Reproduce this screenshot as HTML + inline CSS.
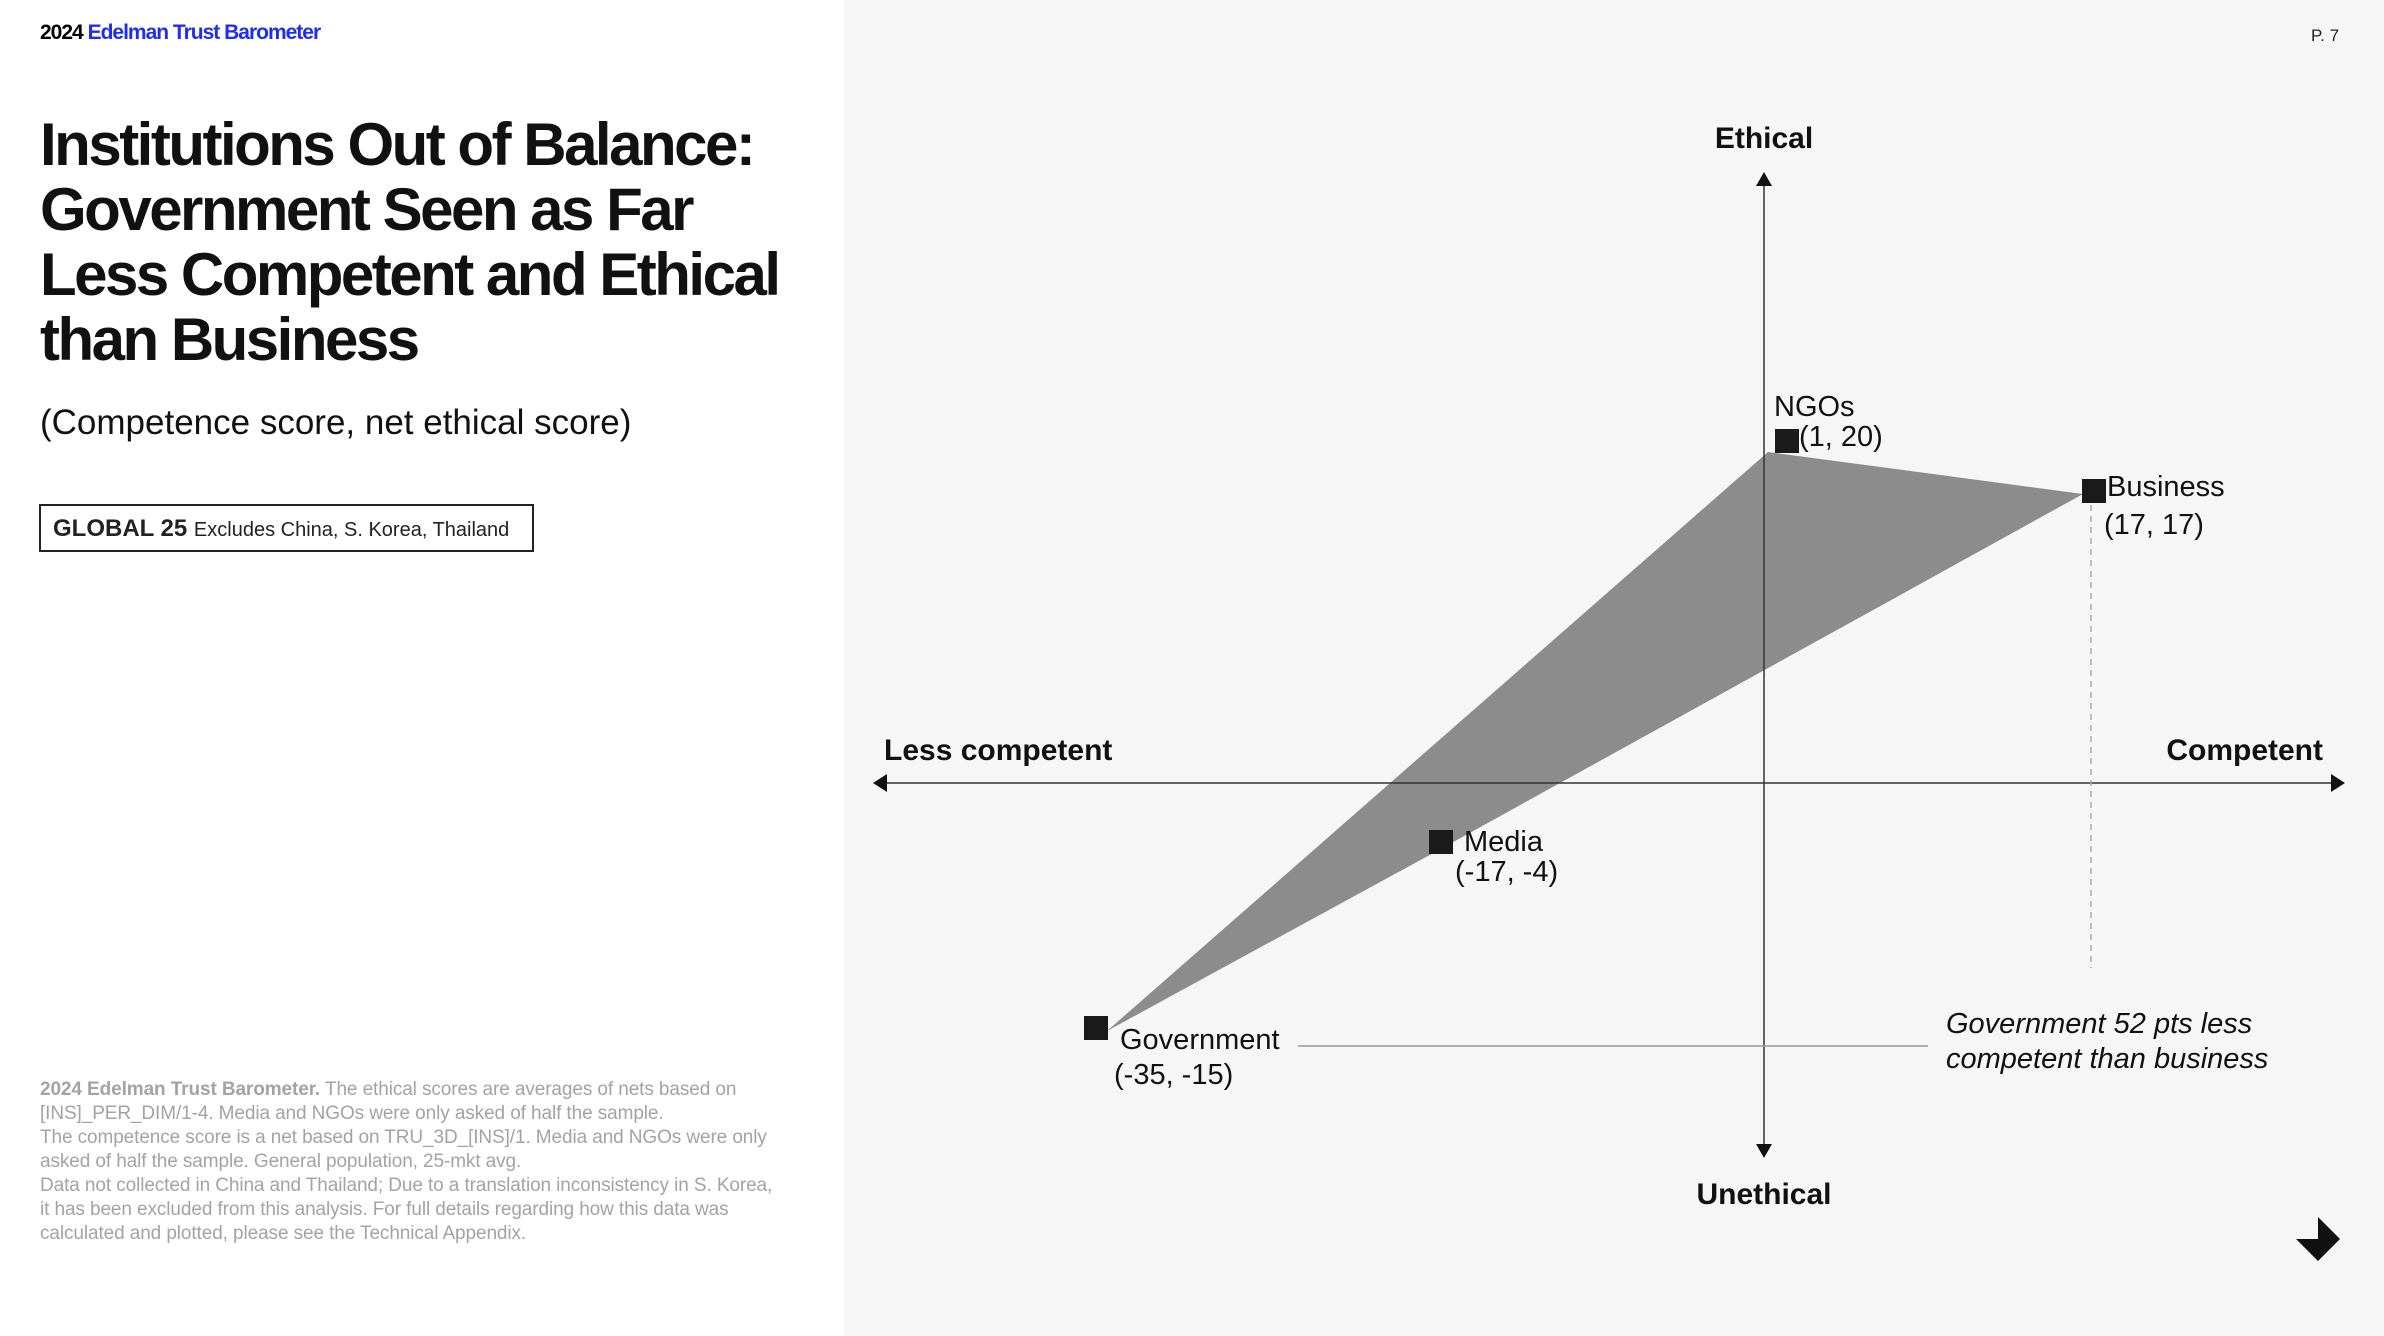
<!DOCTYPE html>
<html><head><meta charset="utf-8"><style>
body{margin:0;width:2384px;height:1336px;position:relative;overflow:hidden;background:#fff;font-family:"Liberation Sans",Arial,sans-serif;}
.t{position:absolute;white-space:nowrap;line-height:1;}
</style></head><body>
<div style="position:absolute;left:844px;top:0;width:1540px;height:1336px;background:#f6f6f6"></div>
<div class="t" style="left:40px;top:22px;font-size:21px;font-weight:bold;letter-spacing:-1px;">2024 <span style="color:#1f2cf5">Edelman Trust Barometer</span></div>
<div class="t" style="left:40px;top:112px;font-size:60px;font-weight:bold;letter-spacing:-2.5px;line-height:65px;color:#111;">Institutions Out of Balance:<br>Government Seen as Far<br>Less Competent and Ethical<br>than Business</div>
<div class="t" style="left:40px;top:405px;font-size:35px;color:#111;">(Competence score, net ethical score)</div>
<div style="position:absolute;left:39px;top:504px;width:491px;height:44px;border:2px solid #222;"></div>
<div class="t" style="left:53px;top:517px;font-size:24px;color:#222;"><b>GLOBAL 25</b> <span style="font-size:20px">Excludes China, S. Korea, Thailand</span></div>
<div class="t" style="left:40px;top:1078px;font-size:19px;color:#a3a3a3;line-height:24px;letter-spacing:-0.1px;"><b>2024 Edelman Trust Barometer.</b> The ethical scores are averages of nets based on<br>[INS]_PER_DIM/1-4. Media and NGOs were only asked of half the sample.<br>The competence score is a net based on TRU_3D_[INS]/1. Media and NGOs were only<br>asked of half the sample. General population, 25-mkt avg.<br>Data not collected in China and Thailand; Due to a translation inconsistency in S. Korea,<br>it has been excluded from this analysis. For full details regarding how this data was<br>calculated and plotted, please see the Technical Appendix.</div>
<div class="t" style="left:2311px;top:27px;font-size:17px;color:#222;">P. 7</div>
<svg width="2384" height="1336" style="position:absolute;left:0;top:0">
<polygon points="1107,1031 1768,452 2083,494 1437,851" fill="#8c8c8c"/>
<line x1="1764" y1="180" x2="1764" y2="1145" stroke="#333" stroke-width="1.5"/>
<polygon points="1764,172 1756,186 1772,186" fill="#111"/>
<polygon points="1764,1158 1756,1144 1772,1144" fill="#111"/>
<line x1="885" y1="783" x2="2335" y2="783" stroke="#333" stroke-width="1.5"/>
<polygon points="873,783 887,774 887,792" fill="#111"/>
<polygon points="2345,783 2331,774 2331,792" fill="#111"/>
<line x1="2091" y1="505" x2="2091" y2="968" stroke="#aaa" stroke-width="1.5" stroke-dasharray="6,5"/>
<line x1="1298" y1="1046" x2="1928" y2="1046" stroke="#999" stroke-width="1.5"/>
<rect x="1775" y="429" width="24" height="24" fill="#1a1a1a"/>
<rect x="2082" y="479" width="24" height="24" fill="#1a1a1a"/>
<rect x="1429" y="830" width="24" height="24" fill="#1a1a1a"/>
<rect x="1084" y="1016" width="24" height="24" fill="#1a1a1a"/>
<polygon points="2318,1217 2340,1239 2318,1261 2296,1239 2318,1239" fill="#111"/>
</svg>
<div class="t" style="left:1764px;top:124px;transform:translateX(-50%);font-size:30px;font-weight:bold;color:#111;">Ethical</div>
<div class="t" style="left:1764px;top:1180px;transform:translateX(-50%);font-size:30px;font-weight:bold;color:#111;">Unethical</div>
<div class="t" style="left:884px;top:736px;font-size:30px;font-weight:bold;color:#111;">Less competent</div>
<div class="t" style="right:61px;top:736px;font-size:30px;font-weight:bold;color:#111;">Competent</div>
<div class="t" style="left:1774px;top:393px;font-size:29px;color:#111;">NGOs</div>
<div class="t" style="left:1799px;top:423px;font-size:29px;color:#111;">(1, 20)</div>
<div class="t" style="left:2107px;top:473px;font-size:29px;color:#111;">Business</div>
<div class="t" style="left:2104px;top:511px;font-size:29px;color:#111;">(17, 17)</div>
<div class="t" style="left:1464px;top:828px;font-size:29px;color:#111;">Media</div>
<div class="t" style="left:1455px;top:858px;font-size:29px;color:#111;">(-17, -4)</div>
<div class="t" style="left:1120px;top:1026px;font-size:29px;color:#111;">Government</div>
<div class="t" style="left:1114px;top:1061px;font-size:29px;color:#111;">(-35, -15)</div>
<div class="t" style="left:1946px;top:1007px;font-size:29px;font-style:italic;color:#111;line-height:35px;">Government 52 pts less<br>competent than business</div>
</body></html>
